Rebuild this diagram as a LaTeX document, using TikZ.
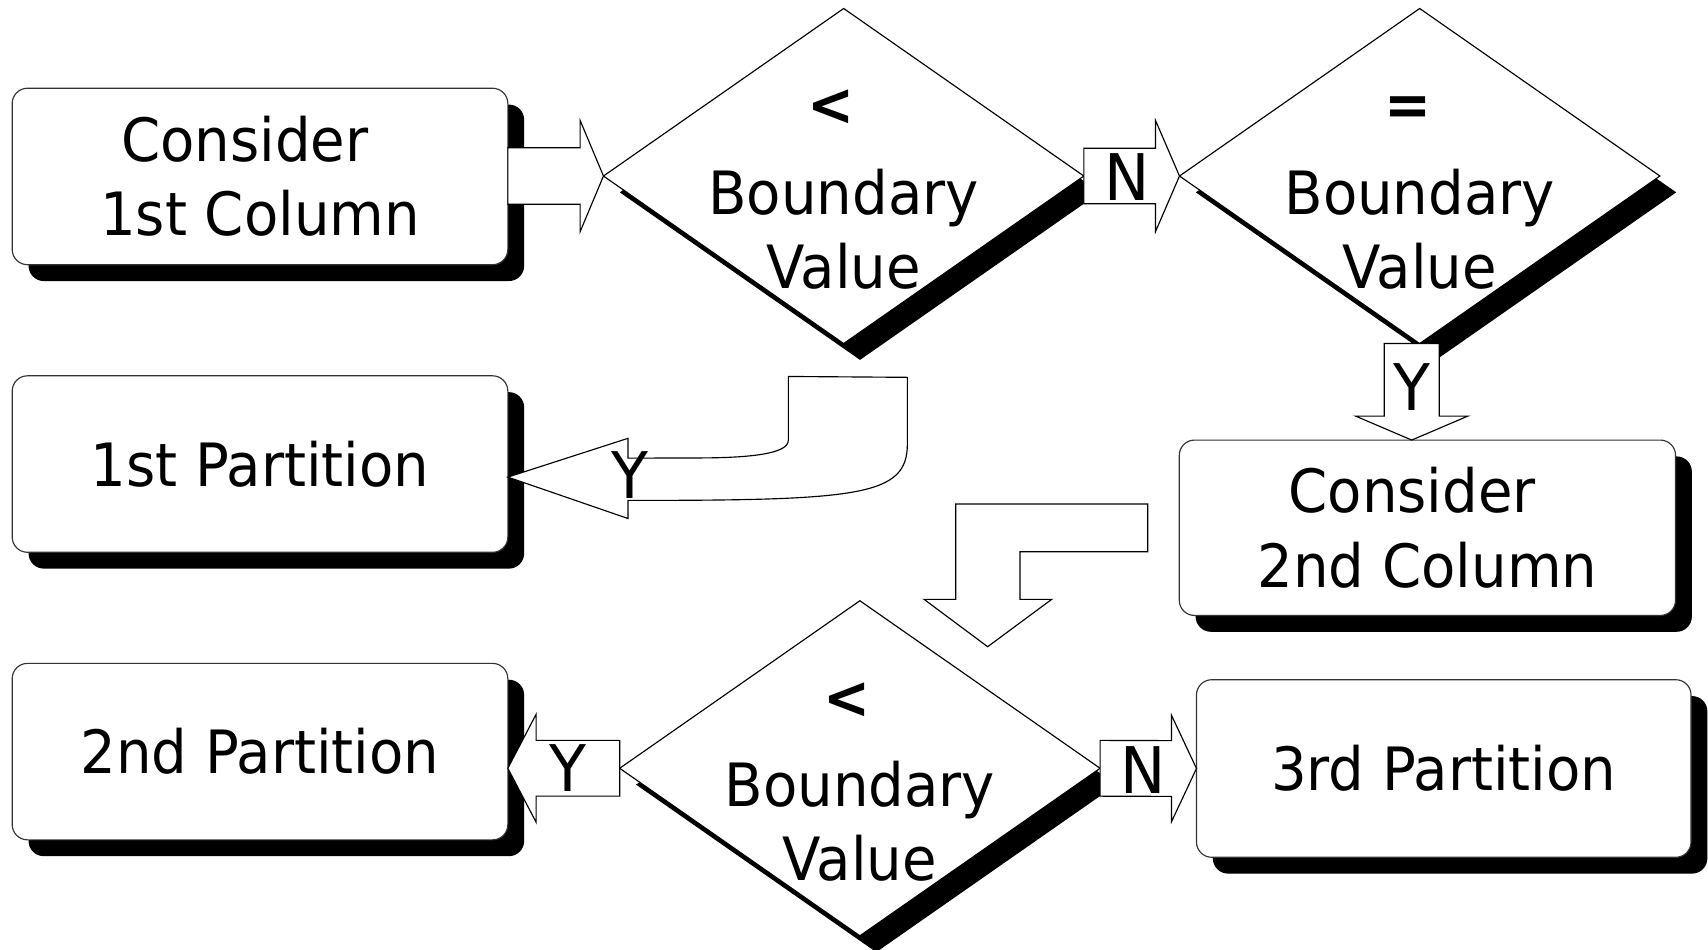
\documentclass[tikz,border=0pt]{standalone}
\usepackage{fontspec}
\setmainfont{DejaVu Sans}[FakeStretch=0.94]
\usetikzlibrary{shapes.geometric,shadows,calc}
\newcommand\mainfs{\fontsize{15.6pt}{19.35pt}\selectfont}
\newcommand\lblfs{\fontsize{16.8pt}{20pt}\selectfont}
\begin{document}
\begin{tikzpicture}[
  shadowed/.style={drop shadow={shadow xshift=0.15cm,shadow yshift=-0.15cm,fill=black,opacity=1,draw=none}},
  procbox/.style={rectangle, draw=black!80, line width=0.3pt, fill=white, rounded corners=0.14cm,
    minimum width=4.55cm, minimum height=1.62cm, inner sep=0pt, outer sep=0pt, align=center,
    font=\mainfs, shadowed},
  decision/.style={diamond, draw=black, line width=0.3pt, fill=white, minimum width=4.41cm,
    minimum height=3.076cm, inner sep=0pt, outer sep=0pt, shadowed},
  dtext/.style={anchor=base, inner sep=0pt, font=\mainfs},
  blockarrow/.style={draw=black, line width=0.3pt, fill=white, line join=miter},
  alabel/.style={inner sep=0pt, font=\lblfs}
]
\useasboundingbox (0,0) rectangle (15.68,-8.72);

% process boxes
\node[procbox] (A) at (2.387,-1.62) {Consider\hspace*{0.28cm}\\1st Column};
\node[procbox] (B) at (2.387,-4.26) {1st Partition};
\node[procbox] (C) at (2.387,-6.90) {2nd Partition};
\node[procbox, minimum width=4.556cm, minimum height=1.61cm] (D) at (13.104,-4.845) {Consider\hspace*{0.28cm}\\2nd Column};
\node[procbox, minimum width=4.54cm, minimum height=1.63cm] (E) at (13.254,-7.055) {3rd Partition};

% decisions
\node[decision] (d1) at (7.745,-1.616) {};
\node[decision] (d2) at (13.033,-1.616) {};
\node[decision] (d3) at (7.894,-7.053) {};

\node[dtext] (d1s) at ($(d1)+(-0.12,0.46)$) {\bfseries <};
\node[dtext] (d1b) at ($(d1)+(0,-0.35)$) {Boundary};
\node[dtext] (d1v) at ($(d1)+(0,-1.03)$) {Value};
\node[dtext] (d2s) at ($(d2)+(-0.11,0.46)$) {\bfseries =};
\node[dtext] (d2b) at ($(d2)+(0,-0.35)$) {Boundary};
\node[dtext] (d2v) at ($(d2)+(0,-1.03)$) {Value};
\node[dtext] (d3s) at ($(d3)+(-0.12,0.46)$) {\bfseries <};
\node[dtext] (d3b) at ($(d3)+(0,-0.35)$) {Boundary};
\node[dtext] (d3v) at ($(d3)+(0,-1.03)$) {Value};

% helper coordinates
\coordinate (a1s) at (A.east |- d1.west);
\coordinate (t3) at ($(d2.south)+(-0.073,0)$);
\coordinate (p3) at (t3 |- D.north);
\coordinate (t6) at (C.east |- d3.west);
\coordinate (tip4) at ($(B.east)+(0,-0.12)$);
\coordinate (o5) at ($(D.west)+(0,-0.046)$);

% arrow 1: A -> d1
\draw[blockarrow] ($(a1s)+(0,0.259)$) -- ($(d1.west)+(-0.214,0.259)$) -- ($(d1.west)+(-0.214,0.51)$)
  -- (d1.west) -- ($(d1.west)+(-0.214,-0.51)$) -- ($(d1.west)+(-0.214,-0.259)$)
  -- ($(a1s)+(0,-0.259)$) -- cycle;

% arrow 2: d1 -> d2 (N)
\draw[blockarrow] ($(d1.east)+(0,0.255)$) -- ($(d2.west)+(-0.22,0.255)$) -- ($(d2.west)+(-0.22,0.51)$)
  -- (d2.west) -- ($(d2.west)+(-0.22,-0.51)$) -- ($(d2.west)+(-0.22,-0.255)$)
  -- ($(d1.east)+(0,-0.255)$) -- cycle;
\node[alabel] (n1) at ($(d1.east)!0.5!(d2.west)+(-0.04,-0.014)$) {N};

% arrow 3: d2 -> D (Y)
\draw[blockarrow] ($(t3)+(-0.252,0)$) -- ($(p3)+(-0.252,0.22)$) -- ($(p3)+(-0.515,0.22)$)
  -- (p3) -- ($(p3)+(0.515,0.22)$) -- ($(p3)+(0.252,0.22)$) -- ($(t3)+(0.252,0)$) -- cycle;
\node[alabel] (y3) at ($(t3)!0.45!(p3)$) {Y};

% arrow 4: d1 -> B (Y), bent
\begin{scope}[shift={(d1.south)}]
\draw[blockarrow] (-0.508,-0.302) -- (0.585,-0.31) -- (0.585,-0.92)
  .. controls (0.585,-1.40) and (0.155,-1.44) .. (-1.98,-1.44)
  -- (-1.98,-1.606) -- (tip4) -- (-1.98,-0.87) -- (-1.98,-1.052) -- (-1.345,-1.05)
  .. controls (-0.845,-1.05) and (-0.508,-1.01) .. (-0.508,-0.888) -- cycle;
\end{scope}
\node[alabel] (y4) at ($(d1.south)+(-1.965,-1.21)$) {Y};

% arrow 5: D -> d3, bent down
\begin{scope}[shift={(o5)}]
\draw[blockarrow] (-0.29,0.264) -- (-2.052,0.264) -- (-2.052,-0.611) -- (-2.343,-0.611)
  -- (-1.759,-1.046) -- (-1.171,-0.611) -- (-1.462,-0.611) -- (-1.462,-0.174)
  -- (-0.29,-0.174) -- cycle;
\end{scope}

% arrow 6: d3 -> C (Y)
\draw[blockarrow] ($(d3.west)+(0,0.256)$) -- ($(t6)+(0.26,0.256)$) -- ($(t6)+(0.26,0.496)$)
  -- (t6) -- ($(t6)+(0.26,-0.496)$) -- ($(t6)+(0.26,-0.256)$) -- ($(d3.west)+(0,-0.256)$) -- cycle;
\node[alabel] (y6) at ($(d3.west)!0.5!(t6)+(0.035,0)$) {Y};

% arrow 7: d3 -> E (N)
\draw[blockarrow] ($(d3.east)+(0,0.256)$) -- ($(E.west)+(-0.23,0.256)$) -- ($(E.west)+(-0.23,0.49)$)
  -- (E.west) -- ($(E.west)+(-0.23,-0.49)$) -- ($(E.west)+(-0.23,-0.256)$) -- ($(d3.east)+(0,-0.256)$) -- cycle;
\node[alabel] (n7) at ($(d3.east)!0.5!(E.west)+(-0.05,-0.015)$) {N};
\end{tikzpicture}
\end{document}
